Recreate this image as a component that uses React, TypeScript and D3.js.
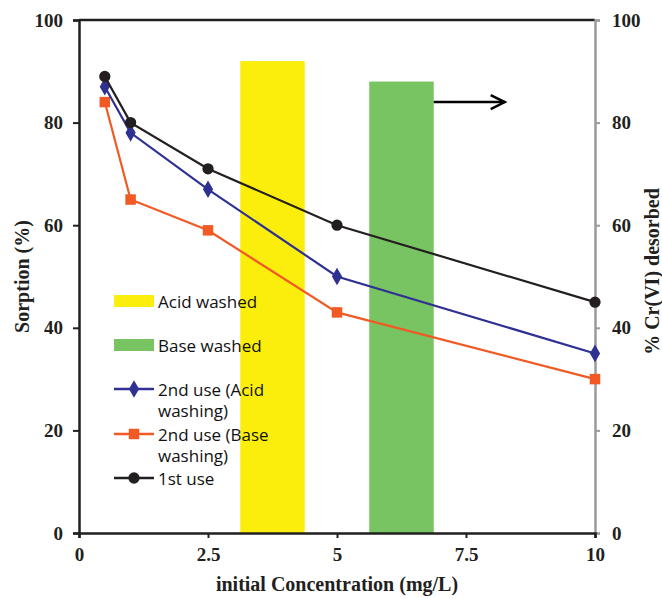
import React, { useEffect, useRef } from "react";
import * as d3 from "d3";

// x values (initial concentration, mg/L)
const concentrations = [0.5, 1, 2.5, 5, 10];
const firstUse = [89, 80, 71, 60, 45];
const secondAcid = [87, 78, 67, 50, 35];
const secondBase = [84, 65, 59, 43, 30];

// desorption bars (right axis)
const barLabels = ["Acid washed", "Base washed"];
const barCenters = [3.75, 6.25];
const barValues = [92, 88];
const barWidth = 1.25;

const xTicks = [0, 2.5, 5, 7.5, 10];
const yTicks = [0, 20, 40, 60, 80, 100];

const App = () => {
  const svgRef = useRef<SVGSVGElement>(null);

  useEffect(() => {
    const svg = d3.select(svgRef.current);
    svg.selectAll("*").remove();

    const margin = { top: 20, right: 67, bottom: 65, left: 79 };
    const fullW = 662;
    const fullH = 598;
    const width = fullW - margin.left - margin.right;
    const height = fullH - margin.top - margin.bottom;
    const serif = "Liberation Serif, Times New Roman, serif";
    const sans = "Open Sans, Liberation Sans, sans-serif";

    const blue = "#2e3192";
    const orange = "#f15a24";
    const black = "#231f20";
    const barColors = ["#fcee0c", "#78c463"];

    const g = svg
      .attr("width", fullW)
      .attr("height", fullH)
      .append("g")
      .attr("transform", `translate(${margin.left}, ${margin.top})`);

    const x = d3.scaleLinear().domain([0, 10]).range([0, width]);
    const y = d3.scaleLinear().domain([0, 100]).range([height, 0]);
    const y2 = d3.scaleLinear().domain([0, 100]).range([height, 0]);

    // bars
    barCenters.forEach((c, i) => {
      g.append("rect")
        .attr("x", x(c - barWidth / 2))
        .attr("y", y2(barValues[i]))
        .attr("width", x(c + barWidth / 2) - x(c - barWidth / 2))
        .attr("height", height - y2(barValues[i]))
        .attr("fill", barColors[i]);
    });

    // top frame
    g.append("line")
      .attr("x1", 0).attr("x2", width)
      .attr("y1", 0).attr("y2", 0)
      .attr("stroke", black).attr("stroke-width", 2.5);

    const styleAxis = (ax: any, color: string) => {
      ax.attr("font-family", serif).attr("font-size", 19).attr("font-weight", "bold");
      ax.select(".domain").attr("stroke", color).attr("stroke-width", 2.5);
      ax.selectAll(".tick line").attr("stroke", color).attr("stroke-width", 2);
      ax.selectAll("text").attr("fill", black);
    };

    // right axis (gray)
    const rightAxis = g.append("g")
      .attr("transform", `translate(${width}, 0)`)
      .call(d3.axisRight(y2).tickValues(yTicks).tickSize(5).tickPadding(12));
    styleAxis(rightAxis, "#9a9a9a");

    // left axis
    const leftAxis = g.append("g")
      .call(d3.axisLeft(y).tickValues(yTicks).tickSize(6).tickPadding(10));
    styleAxis(leftAxis, black);

    // bottom axis
    const bottomAxis = g.append("g")
      .attr("transform", `translate(0, ${height})`)
      .call(d3.axisBottom(x).tickValues(xTicks).tickFormat(d3.format("")).tickSize(5).tickPadding(10));
    styleAxis(bottomAxis, black);

    // arrow pointing to right axis
    g.append("line")
      .attr("x1", x(barCenters[1] + barWidth / 2)).attr("x2", x(8.25))
      .attr("y1", y2(84)).attr("y2", y2(84))
      .attr("stroke", "#000").attr("stroke-width", 2.5);
    g.append("path")
      .attr("d", `M${x(8.25) - 14},${y2(84) - 7} L${x(8.25)},${y2(84)} L${x(8.25) - 14},${y2(84) + 7}`)
      .attr("fill", "none").attr("stroke", "#000").attr("stroke-width", 2.5);

    // series
    const series = [
      { values: secondBase, color: orange, marker: "square" },
      { values: secondAcid, color: blue, marker: "diamond" },
      { values: firstUse, color: black, marker: "circle" },
    ];
    const symbols: Record<string, any> = {
      square: d3.symbol().type(d3.symbolSquare).size(110),
      diamond: d3.symbol().type(d3.symbolDiamond).size(90),
      circle: d3.symbol().type(d3.symbolCircle).size(100),
    };

    const line = d3.line<number>()
      .x((_, i) => x(concentrations[i]))
      .y((d) => y(d));

    series.forEach((s) => {
      g.append("path")
        .datum(s.values)
        .attr("d", line)
        .attr("fill", "none")
        .attr("stroke", s.color)
        .attr("stroke-width", 2.2);
      g.selectAll(null)
        .data(s.values)
        .enter()
        .append("path")
        .attr("d", symbols[s.marker])
        .attr("transform", (d, i) => `translate(${x(concentrations[i])}, ${y(d)})`)
        .attr("fill", s.color);
    });

    // legend
    const legend = g.append("g").attr("transform", `translate(35, 281)`);
    const legendItems = [
      { kind: "bar", color: barColors[0], lines: [barLabels[0]], dy: 0 },
      { kind: "bar", color: barColors[1], lines: [barLabels[1]], dy: 44 },
      { kind: "line", color: blue, marker: "diamond", lines: ["2nd use (Acid", "washing)"], dy: 88 },
      { kind: "line", color: orange, marker: "square", lines: ["2nd use (Base", "washing)"], dy: 133 },
      { kind: "line", color: black, marker: "circle", lines: ["1st use"], dy: 177 },
    ];
    legendItems.forEach((item) => {
      if (item.kind === "bar") {
        legend.append("rect")
          .attr("x", 0).attr("y", item.dy - 6)
          .attr("width", 40).attr("height", 12)
          .attr("fill", item.color);
      } else {
        legend.append("line")
          .attr("x1", 0).attr("x2", 40)
          .attr("y1", item.dy).attr("y2", item.dy)
          .attr("stroke", item.color).attr("stroke-width", 2.5);
        legend.append("path")
          .attr("d", symbols[item.marker as string])
          .attr("transform", `translate(20, ${item.dy})`)
          .attr("fill", item.color);
      }
      item.lines.forEach((t, j) => {
        legend.append("text")
          .attr("x", 44)
          .attr("y", item.dy + 7 + j * 21)
          .attr("font-size", 17)
          .attr("font-family", sans)
          .attr("fill", "#111")
          .text(t);
      });
    });

    // axis titles
    const title = (tx: number, ty: number, rot: number, label: string) =>
      svg.append("text")
        .attr("transform", `translate(${tx}, ${ty}) rotate(${rot})`)
        .attr("text-anchor", "middle")
        .attr("font-size", 20)
        .attr("font-family", serif)
        .attr("font-weight", "bold")
        .attr("fill", black)
        .text(label);

    title(margin.left + width / 2, 591, 0, "initial Concentration (mg/L)");
    title(29, margin.top + height / 2, -90, "Sorption (%)");
    title(659, margin.top + height / 2 - 5, -90, "% Cr(VI) desorbed");
  }, []);

  return (
    <svg ref={svgRef} style={{ position: "absolute", left: 0, top: 0, background: "#fff" }}></svg>
  );
};

export default App;
